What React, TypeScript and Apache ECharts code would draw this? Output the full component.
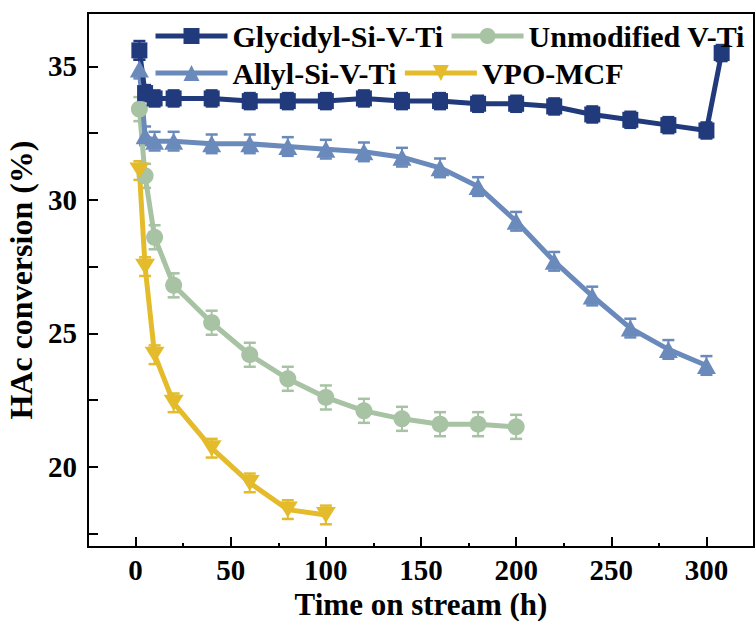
import React, { useEffect, useRef } from 'react';
import * as echarts from 'echarts';

const FONT = "'Liberation Serif', 'Times New Roman', Times, serif";

const nameGly = 'Glycidyl-Si-V-Ti';
const nameUnm = 'Unmodified V-Ti';
const nameAll = 'Allyl-Si-V-Ti';
const nameVpo = 'VPO-MCF';

const timeGly = [2, 5, 10, 20, 40, 60, 80, 100, 120, 140, 160, 180, 200, 220, 240, 260, 280, 300, 308];
const convGly = [35.6, 34.0, 33.8, 33.8, 33.8, 33.7, 33.7, 33.7, 33.8, 33.7, 33.7, 33.6, 33.6, 33.5, 33.2, 33.0, 32.8, 32.6, 35.5];
const errGly = [0.35, 0.3, 0.3, 0.3, 0.3, 0.3, 0.3, 0.3, 0.3, 0.3, 0.3, 0.3, 0.3, 0.3, 0.3, 0.3, 0.3, 0.3, 0.3];

const timeAll = [2, 5, 10, 20, 40, 60, 80, 100, 120, 140, 160, 180, 200, 220, 240, 260, 280, 300];
const convAll = [34.9, 32.4, 32.2, 32.2, 32.1, 32.1, 32.0, 31.9, 31.8, 31.6, 31.2, 30.5, 29.2, 27.7, 26.4, 25.2, 24.4, 23.8];
const errAll = [0.35, 0.35, 0.35, 0.35, 0.35, 0.35, 0.35, 0.35, 0.35, 0.35, 0.35, 0.35, 0.35, 0.35, 0.35, 0.35, 0.35, 0.35];

const timeUnm = [2, 5, 10, 20, 40, 60, 80, 100, 120, 140, 160, 180, 200];
const convUnm = [33.4, 30.9, 28.6, 26.8, 25.4, 24.2, 23.3, 22.6, 22.1, 21.8, 21.6, 21.6, 21.5];
const errUnm = [0.45, 0.45, 0.45, 0.45, 0.45, 0.45, 0.45, 0.45, 0.45, 0.45, 0.45, 0.45, 0.45];

const timeVpo = [2, 5, 10, 20, 40, 60, 80, 100];
const convVpo = [31.1, 27.5, 24.2, 22.4, 20.7, 19.4, 18.4, 18.2];
const errVpo = [0.35, 0.35, 0.35, 0.35, 0.35, 0.35, 0.35, 0.35];

const xMajorTicks = [0, 50, 100, 150, 200, 250, 300];
const xMinorTicks = [25, 75, 125, 175, 225, 275];
const yTicks = [17.5, 20, 22.5, 25, 27.5, 30, 32.5, 35];
const yLabels = [20, 25, 30, 35];

const COLORS: Record<string, string> = {
  [nameGly]: '#213a7c',
  [nameUnm]: '#a7c3a4',
  [nameAll]: '#6a8abc',
  [nameVpo]: '#e3bb2b',
};

function errorSeries(name: string, xs: number[], ys: number[], es: number[]) {
  const color = COLORS[name];
  return {
    type: 'custom',
    name: name + ' err',
    silent: true,
    xAxisIndex: 0,
    yAxisIndex: 0,
    encode: { x: 0, y: 1 },
    data: xs.map((x, i) => [x, ys[i], es[i]]),
    renderItem: (params: any, api: any) => {
      const x = api.value(0);
      const y = api.value(1);
      const e = api.value(2);
      const top = api.coord([x, y + e]);
      const bot = api.coord([x, y - e]);
      const hw = 6;
      return {
        type: 'group',
        children: [
          { type: 'line', shape: { x1: top[0], y1: top[1], x2: bot[0], y2: bot[1] }, style: { stroke: color, lineWidth: 2 } },
          { type: 'line', shape: { x1: top[0] - hw, y1: top[1], x2: top[0] + hw, y2: top[1] }, style: { stroke: color, lineWidth: 2.5 } },
          { type: 'line', shape: { x1: bot[0] - hw, y1: bot[1], x2: bot[0] + hw, y2: bot[1] }, style: { stroke: color, lineWidth: 2.5 } },
        ],
      };
    },
  };
}

function lineSeries(name: string, xs: number[], ys: number[], symbol: string, size: any, rotate = 0) {
  const color = COLORS[name];
  return {
    type: 'line',
    name,
    xAxisIndex: 0,
    yAxisIndex: 0,
    data: xs.map((x, i) => [x, ys[i]]),
    symbol,
    symbolSize: size,
    symbolRotate: rotate,
    showAllSymbol: true,
    lineStyle: { color, width: 5 },
    itemStyle: { color },
    emphasis: { disabled: true },
  };
}

const legendText = { fontFamily: FONT, fontWeight: 'bold', fontSize: 30, color: '#000' };

function legendRow(data: string[], top: number) {
  return {
    data,
    left: 153,
    top,
    padding: 0,
    itemWidth: 72,
    itemHeight: 20,
    itemGap: 6,
    textStyle: legendText,
    lineStyle: { width: 5 },
    selectedMode: false,
  };
}

export default function App() {
  const ref = useRef<HTMLDivElement>(null);
  useEffect(() => {
    if (!ref.current) return;
    const chart = echarts.init(ref.current, undefined, { renderer: 'svg' });
    chart.setOption({
      animation: false,
      backgroundColor: '#fff',
      grid: {
        left: 88,
        top: 13,
        width: 666,
        height: 534,
        show: true,
        borderColor: '#000',
        borderWidth: 2,
        backgroundColor: 'transparent',
        outerBoundsMode: 'none',
        containLabel: false,
      },
      legend: [legendRow([nameGly, nameUnm], 21), legendRow([nameAll, nameVpo], 58)],
      xAxis: [
        {
          type: 'value',
          min: -25,
          max: 325,
          position: 'bottom',
          name: 'Time on stream (h)',
          nameLocation: 'middle',
          nameGap: 36,
          nameTextStyle: { fontFamily: FONT, fontWeight: 'bold', fontSize: 31, color: '#000' },
          axisLine: { show: true, onZero: false, lineStyle: { color: '#000', width: 2 } },
          axisTick: { show: true, inside: true, length: 10, lineStyle: { color: '#000', width: 2 }, customValues: xMajorTicks },
          axisLabel: { fontFamily: FONT, fontWeight: 'bold', fontSize: 29, color: '#000', margin: 8, customValues: xMajorTicks },
          splitLine: { show: false },
        },
        {
          type: 'value',
          min: -25,
          max: 325,
          position: 'bottom',
          axisLine: { show: false, onZero: false },
          axisTick: { show: true, inside: true, length: 4, lineStyle: { color: '#000', width: 2 }, customValues: xMinorTicks },
          axisLabel: { show: false },
          splitLine: { show: false },
        },
      ],
      yAxis: {
        type: 'value',
        min: 17,
        max: 37,
        name: 'HAc conversion (%)',
        nameLocation: 'middle',
        nameGap: 40,
        nameTextStyle: { fontFamily: FONT, fontWeight: 'bold', fontSize: 32, color: '#000' },
        axisLine: { show: true, onZero: false, lineStyle: { color: '#000', width: 2 } },
        axisTick: { show: true, inside: true, length: 10, lineStyle: { color: '#000', width: 2 }, customValues: yTicks },
        axisLabel: { fontFamily: FONT, fontWeight: 'bold', fontSize: 29, color: '#000', margin: 11, customValues: yLabels },
        splitLine: { show: false },
      },
      series: [
        errorSeries(nameUnm, timeUnm, convUnm, errUnm),
        lineSeries(nameUnm, timeUnm, convUnm, 'circle', 17),
        errorSeries(nameVpo, timeVpo, convVpo, errVpo),
        lineSeries(nameVpo, timeVpo, convVpo, 'triangle', [20, 16], 180),
        errorSeries(nameAll, timeAll, convAll, errAll),
        lineSeries(nameAll, timeAll, convAll, 'triangle', [19, 17]),
        errorSeries(nameGly, timeGly, convGly, errGly),
        lineSeries(nameGly, timeGly, convGly, 'rect', 16),
      ],
    });
    return () => chart.dispose();
  }, []);
  return (
    <div
      ref={ref}
      style={{ position: 'absolute', left: 0, top: 0, width: 755, height: 621 }}
    />
  );
}
